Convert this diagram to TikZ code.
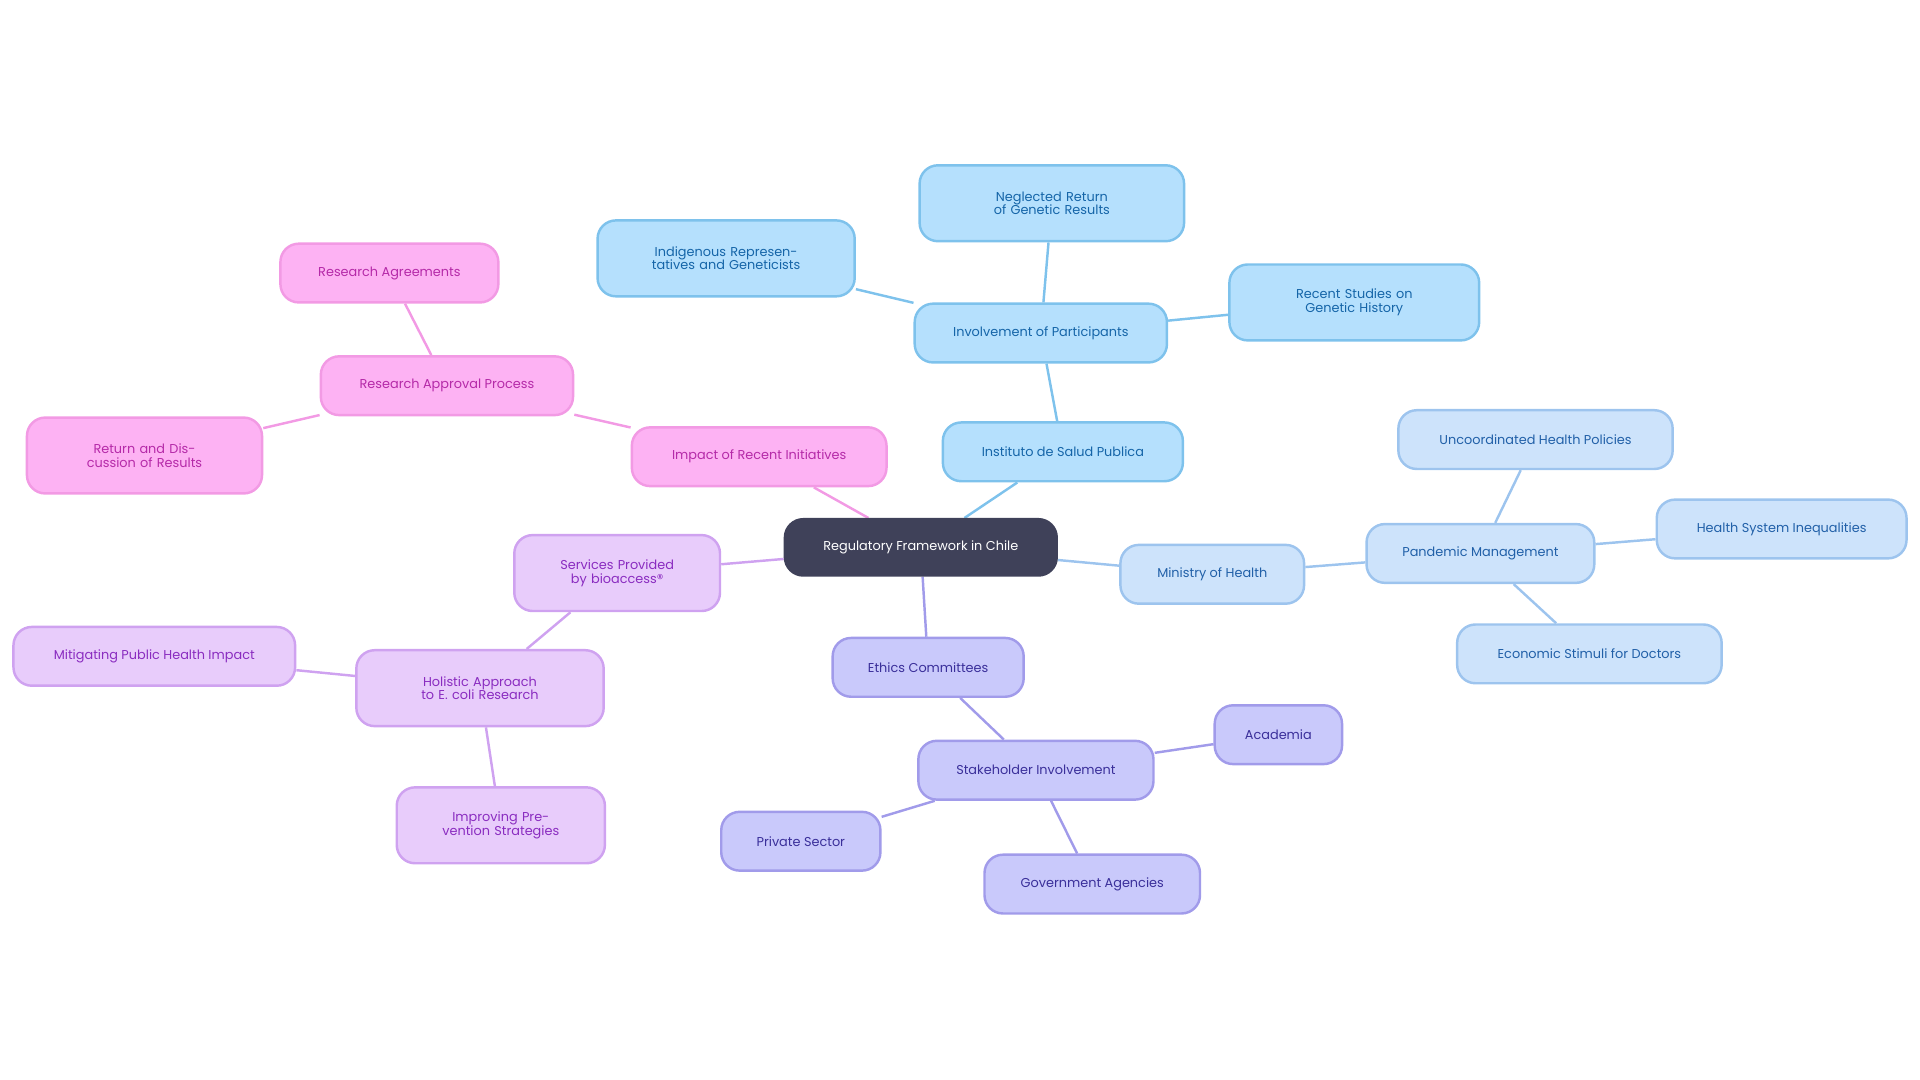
\documentclass[tikz,border=0pt]{standalone}
\usepackage{fontspec}
\setmainfont{Poppins}
\usetikzlibrary{backgrounds}
\definecolor{pkF}{HTML}{FDB2F3}\definecolor{pkD}{HTML}{F29AE4}\definecolor{pkT}{HTML}{B52AA8}
\definecolor{lvF}{HTML}{E8CCFB}\definecolor{lvD}{HTML}{CFA2F0}\definecolor{lvT}{HTML}{8A2CC0}
\definecolor{inF}{HTML}{C9C9FB}\definecolor{inD}{HTML}{A19BEA}\definecolor{inT}{HTML}{3A2F9A}
\definecolor{skF}{HTML}{B5E0FD}\definecolor{skD}{HTML}{7EC2EC}\definecolor{skT}{HTML}{1565A8}
\definecolor{pbF}{HTML}{CDE3FB}\definecolor{pbD}{HTML}{9DC4EE}\definecolor{pbT}{HTML}{2160A8}
\definecolor{rootF}{HTML}{3F4159}
\tikzset{
 bx/.style={rounded corners=15pt,line width=2pt,minimum height=48pt,align=center,font=\fontsize{10.5}{11}\selectfont,inner sep=2pt},
 pk/.style={bx,fill=pkF,draw=pkD,text=pkT},
 lv/.style={bx,fill=lvF,draw=lvD,text=lvT},
 ig/.style={bx,fill=inF,draw=inD,text=inT},
 sk/.style={bx,fill=skF,draw=skD,text=skT},
 pb/.style={bx,fill=pbF,draw=pbD,text=pbT},
 tall/.style={minimum height=62pt},
 ln/.style={line width=2pt},
}
\begin{document}
\begin{tikzpicture}[x=1pt,y=-1pt]
\useasboundingbox (0,0) rectangle (1568,882);
\node[bx,fill=rootF,draw=rootF,text=white,minimum width=222pt,minimum height=46pt] (r) at (752,447) {Regulatory Framework in Chile};
\node[pk,minimum width=208pt] (p1) at (620,373) {Impact of Recent Initiatives};
\node[pk,minimum width=206pt] (p2) at (365,315) {Research Approval Process};
\node[pk,minimum width=178pt] (p3) at (318,223) {Research Agreements};
\node[pk,tall,minimum width=192pt,text width=160pt] (p4) at (118,372) {Return and Discussion of Results};
\node[lv,tall,minimum width=168pt,text width=140pt] (l1) at (504,468) {Services Provided by bioaccess®};
\node[lv,tall,minimum width=202pt,text width=170pt] (l2) at (392,562) {Holistic Approach to E. coli Research};
\node[lv,minimum width=230pt] (l3) at (126,536) {Mitigating Public Health Impact};
\node[lv,tall,minimum width=170pt,text width=140pt] (l4) at (409,674) {Improving Prevention Strategies};
\node[ig,minimum width=156pt] (i1) at (758,545) {Ethics Committees};
\node[ig,minimum width=192pt] (i2) at (846,629) {Stakeholder Involvement};
\node[ig,minimum width=104pt] (i3) at (1044,600) {Academia};
\node[ig,minimum width=130pt] (i4) at (654,687) {Private Sector};
\node[ig,minimum width=176pt] (i5) at (892,722) {Government Agencies};
\node[sk,minimum width=196pt] (s1) at (868,369) {Instituto de Salud Publica};
\node[sk,minimum width=206pt] (s2) at (850,272) {Involvement of Participants};
\node[sk,tall,minimum width=210pt,text width=180pt] (s3) at (593,211) {Indigenous Representatives and Geneticists};
\node[sk,tall,minimum width=216pt,text width=180pt] (s4) at (859,166) {Neglected Return of Genetic Results};
\node[sk,tall,minimum width=204pt,text width=170pt] (s5) at (1106,247) {Recent Studies on Genetic History};
\node[pb,minimum width=150pt] (b1) at (990,469) {Ministry of Health};
\node[pb,minimum width=186pt] (b2) at (1209,452) {Pandemic Management};
\node[pb,minimum width=224pt] (b3) at (1254,359) {Uncoordinated Health Policies};
\node[pb,minimum width=204pt] (b4) at (1455,432) {Health System Inequalities};
\node[pb,minimum width=216pt] (b5) at (1298,534) {Economic Stimuli for Doctors};
\begin{scope}[on background layer]
\draw[ln,pkD] (r)--(p1) (p1)--(p2) (p2)--(p3) (p2)--(p4);
\draw[ln,lvD] (r)--(l1) (l1)--(l2) (l2)--(l3) (l2)--(l4);
\draw[ln,inD] (r)--(i1) (i1)--(i2) (i2)--(i3) (i2)--(i4) (i2)--(i5);
\draw[ln,skD] (r)--(s1) (s1)--(s2) (s2)--(s3) (s2)--(s4) (s2)--(s5);
\draw[ln,pbD] (r)--(b1) (b1)--(b2) (b2)--(b3) (b2)--(b4) (b2)--(b5);
\end{scope}
\end{tikzpicture}
\end{document}
